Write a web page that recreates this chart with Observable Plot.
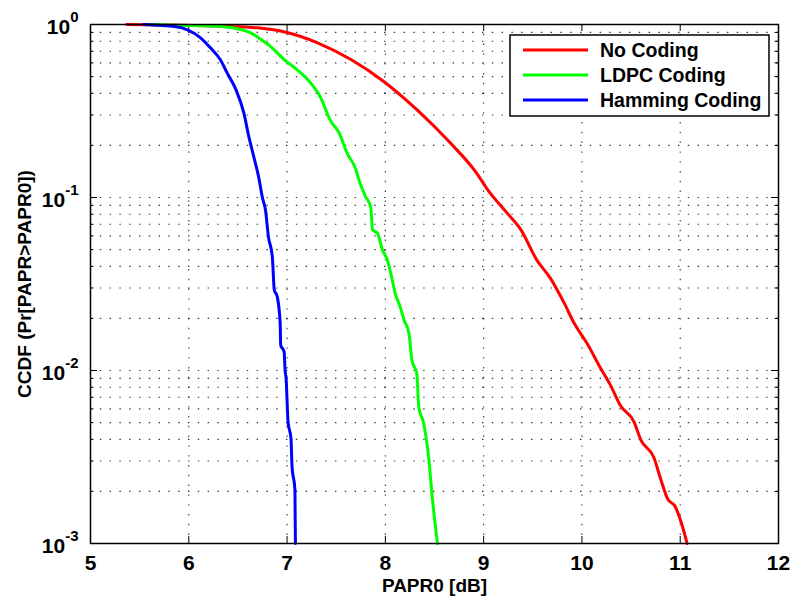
<!DOCTYPE html>
<html><head><meta charset="utf-8">
<script src="https://cdn.jsdelivr.net/npm/d3@7"></script>
<script src="https://cdn.jsdelivr.net/npm/@observablehq/plot@0.6"></script>
<style>
html,body{margin:0;padding:0;background:#fff;}
svg{display:block;}
</style>
</head><body><div id="chart"></div>
<script>
// ---- data ----
const seriesNames = ["No Coding", "LDPC Coding", "Hamming Coding"];
const seriesColors = ["#ff0000", "#00ff00", "#0000ff"];

const noCodingX = [5.37, 6.35, 6.70, 7.00, 7.31, 7.65, 7.98, 8.32, 8.66, 8.93, 9.04, 9.24, 9.38, 9.54, 9.68, 9.82, 9.92, 10.05, 10.19, 10.29, 10.39, 10.53, 10.60, 10.73, 10.80, 10.87, 10.95, 11.02, 11.07];
const noCodingY = [1.0, 0.978, 0.957, 0.899, 0.784, 0.627, 0.470, 0.322, 0.207, 0.138, 0.111, 0.0812, 0.0650, 0.0436, 0.0341, 0.0245, 0.0188, 0.0144, 0.0103, 0.00823, 0.0063, 0.00505, 0.00396, 0.00316, 0.00237, 0.00182, 0.00163, 0.00127, 0.001];

const ldpcX = [5.60, 5.87, 6.36, 6.53, 6.63, 6.76, 6.83, 6.97, 7.10, 7.24, 7.34, 7.44, 7.53, 7.61, 7.70, 7.73, 7.80, 7.85, 7.87, 7.92, 7.97, 8.02, 8.07, 8.10, 8.15, 8.19, 8.24, 8.27, 8.32, 8.34, 8.39, 8.44, 8.48, 8.53];
const ldpcY = [1.0, 0.99, 0.970, 0.935, 0.895, 0.800, 0.748, 0.627, 0.549, 0.459, 0.380, 0.279, 0.236, 0.181, 0.145, 0.127, 0.101, 0.0887, 0.065, 0.0622, 0.0498, 0.0436, 0.0334, 0.0279, 0.0234, 0.0196, 0.0164, 0.0115, 0.0096, 0.00616, 0.00494, 0.00316, 0.00178, 0.001];

const hammingX = [5.54, 5.87, 5.98, 6.12, 6.22, 6.32, 6.39, 6.48, 6.56, 6.61, 6.66, 6.71, 6.75, 6.78, 6.81, 6.85, 6.87, 6.90, 6.93, 6.935, 6.97, 6.98, 6.99, 7.01, 7.04, 7.05, 7.08, 7.085];
const hammingY = [1.0, 0.970, 0.935, 0.838, 0.733, 0.627, 0.525, 0.420, 0.308, 0.226, 0.173, 0.132, 0.0993, 0.0849, 0.0594, 0.0455, 0.0292, 0.0267, 0.01875, 0.01403, 0.01283, 0.01005, 0.0090, 0.00505, 0.00404, 0.00283, 0.00203, 0.001];

const xTicks = [5, 6, 7, 8, 9, 10, 11, 12];
const yTicks = [0.001, 0.01, 0.1, 1];
const yTickExponents = ["-3", "-2", "-1", "0"];
const xLabel = "PAPR0 [dB]";
const yLabel = "CCDF (Pr[PAPR>PAPR0])";

// ---- build tables ----
const seriesX = [noCodingX, ldpcX, hammingX];
const seriesY = [noCodingY, ldpcY, hammingY];
const rows = [];
seriesNames.forEach((name, i) => {
  seriesX[i].forEach((x, j) => rows.push({series: name, x, y: seriesY[i][j]}));
});

// log minor positions (2..9 per decade) for grid and ticks
const yMinor = [];
for (const d of [0.001, 0.01, 0.1]) for (let k = 2; k <= 9; k++) yMinor.push(+(k * d).toPrecision(3));
const yGrid = yMinor.concat([0.01, 0.1]);
const xGrid = xTicks.slice(1, -1);

const font = "'Liberation Sans', Arial, Helvetica, sans-serif";
const W = 793, H = 598, mL = 90, mR = 15, mT = 24, mB = 55;
const fw = W - mL - mR, fh = H - mT - mB;
const dots = {stroke: "#000", strokeOpacity: 0.8, strokeWidth: 1.1, strokeDasharray: "1.4,8.4"};

const plot = Plot.plot({
  width: W, height: H,
  marginLeft: mL, marginRight: mR, marginTop: mT, marginBottom: mB,
  style: {fontFamily: font, fontWeight: "bold", fontSize: "20px", background: "#fff", color: "#000", overflow: "visible"},
  x: {domain: [5, 12]},
  y: {type: "log", domain: [0.001, 1]},
  marks: [
    Plot.ruleX(xGrid, dots),
    Plot.ruleY(yGrid, dots),
    // inward tick marks
    Plot.ruleX(xTicks, {insetTop: fh - 7, stroke: "#000", strokeWidth: 1}),
    Plot.ruleX(xTicks, {insetBottom: fh - 7, stroke: "#000", strokeWidth: 1}),
    Plot.ruleY(yTicks, {insetRight: fw - 7, stroke: "#000", strokeWidth: 1}),
    Plot.ruleY(yTicks, {insetLeft: fw - 7, stroke: "#000", strokeWidth: 1}),
    Plot.ruleY(yMinor, {insetRight: fw - 3.5, stroke: "#000", strokeWidth: 1}),
    Plot.ruleY(yMinor, {insetLeft: fw - 3.5, stroke: "#000", strokeWidth: 1}),
    // curves (MATLAB draw order)
    ...seriesNames.map((name, i) =>
      Plot.line(rows.filter(r => r.series === name), {x: "x", y: "y", stroke: seriesColors[i], strokeWidth: 3, strokeLinejoin: "round", curve: "monotone-x"})
    ),
    Plot.frame({stroke: "#000", strokeWidth: 1.5}),
    Plot.axisX({ticks: xTicks, tickSize: 0, tickPadding: 12, tickFormat: d => String(d), label: null, fontSize: 21, fontWeight: "bold"}),
    Plot.axisY({ticks: yTicks, tickSize: 0, tickPadding: 12, dy: 2.5,
      tickFormat: d => "10^" + yTickExponents[yTicks.indexOf(d)], label: null, fontSize: 21, fontWeight: "bold"}),
    Plot.text([xLabel], {text: d => d, frameAnchor: "bottom", dy: 42, textAnchor: "middle", lineAnchor: "middle", fontSize: 19, fontWeight: "bold"}),
    Plot.text([yLabel], {text: d => d, frameAnchor: "left", dx: -66, rotate: -90, textAnchor: "middle", lineAnchor: "middle", fontSize: 19, fontWeight: "bold"})
  ]
});

// superscript exponents on the y tick labels
d3.select(plot).selectAll('g[aria-label="y-axis tick label"] text').each(function () {
  const parts = this.textContent.split("^");
  const sel = d3.select(this);
  sel.text(parts[0]);
  sel.append("tspan").attr("dy", -11.5).attr("font-size", "15px").text(parts[1]);
});

// legend box inside the plot area (as in the reference)
const svg = d3.select(plot);
const lg = svg.append("g").attr("font-family", font).attr("font-weight", "bold").attr("font-size", "19.5px").attr("text-anchor", "start");
lg.append("rect").attr("x", 510).attr("y", 35).attr("width", 259).attr("height", 81)
  .attr("fill", "#fff").attr("stroke", "#000").attr("stroke-width", 1.5);
seriesNames.forEach((name, i) => {
  const y = 50 + i * 25;
  lg.append("line").attr("x1", 523).attr("x2", 588).attr("y1", y).attr("y2", y)
    .attr("stroke", seriesColors[i]).attr("stroke-width", 3);
  lg.append("text").attr("x", 600).attr("y", y + 7).attr("fill", "#000").attr("text-anchor", "start").text(name);
});

document.getElementById("chart").appendChild(plot);
</script>
</body></html>
